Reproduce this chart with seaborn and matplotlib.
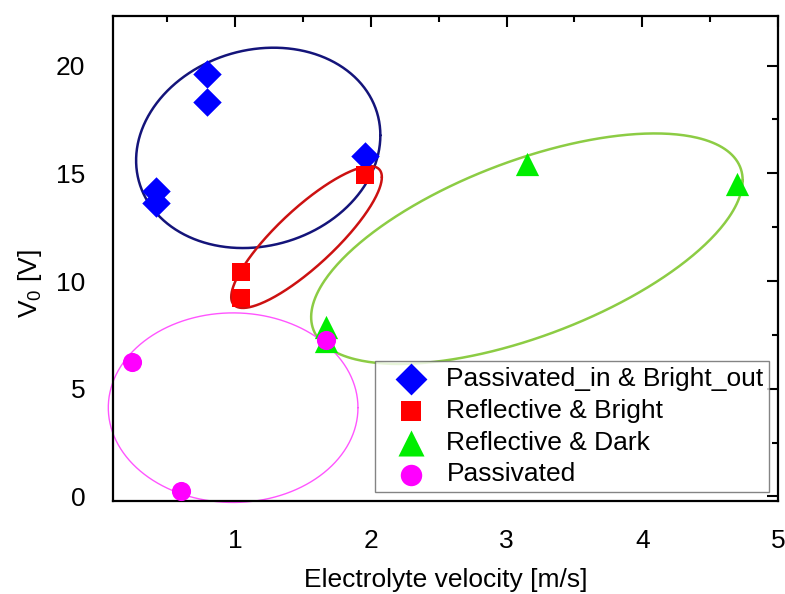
import numpy as np
import pandas as pd
import matplotlib
matplotlib.use("Agg")
import matplotlib.pyplot as plt
import seaborn as sns
from matplotlib.ticker import MultipleLocator

# ---- data ----
groups = ["Passivated_in & Bright_out", "Reflective & Bright", "Reflective & Dark", "Passivated"]

pib_x = [0.79, 0.79, 0.42, 0.42, 1.96]
pib_y = [19.6, 18.3, 14.2, 13.6, 15.8]

rb_x = [1.96, 1.04, 1.04]
rb_y = [14.9, 10.4, 9.2]

rd_x = [3.15, 4.70, 1.67, 1.67]
rd_y = [15.45, 14.5, 7.85, 7.2]

pas_x = [0.24, 0.60, 1.67]
pas_y = [6.25, 0.25, 7.27]

colors = ["#0000ff", "#ff0000", "#00ee00", "#ff00ff"]
markers = ["D", "s", "^", "o"]
marker_sizes = [210, 150, 280, 190]

# ellipses: center x, center y, half-width x, half-height y, phase shift
ell_cx = [1.17, 1.526, 3.15, 0.985]
ell_cy = [16.18, 12.04, 11.5, 4.12]
ell_ax = [0.90, 0.555, 1.59, 0.92]
ell_by = [4.65, 3.29, 5.35, 4.40]
ell_delta = [1.445, 0.564, 0.936, np.pi / 2]
ell_colors = ["#14147a", "#cc1111", "#8ccc44", "#ff55ff"]
ell_lw = [1.8, 1.8, 1.8, 1.0]

xs = [pib_x, rb_x, rd_x, pas_x]
ys = [pib_y, rb_y, rd_y, pas_y]
df = pd.concat([pd.DataFrame({"x": x, "y": y, "group": g}) for x, y, g in zip(xs, ys, groups)],
               ignore_index=True)

sns.set_style("white")
plt.rcParams["font.family"] = ["Liberation Sans", "DejaVu Sans"]
plt.rcParams["mathtext.fontset"] = "custom"
plt.rcParams["mathtext.rm"] = "Liberation Sans"
plt.rcParams["mathtext.it"] = "Liberation Sans"
plt.rcParams["text.color"] = "black"
plt.rcParams["axes.labelcolor"] = "black"

fig = plt.figure(figsize=(7.85, 5.94), dpi=100)
ax = fig.add_axes([0.144, 0.157, 0.847, 0.816])

# ellipses
t = np.linspace(0, 2 * np.pi, 400)
for cx, cy, a, b, d, c, lw in zip(ell_cx, ell_cy, ell_ax, ell_by, ell_delta, ell_colors, ell_lw):
    ax.plot(cx + a * np.cos(t), cy + b * np.cos(t - d), color=c, lw=lw, zorder=2, clip_on=False)

for g, c, m, s in zip(groups, colors, markers, marker_sizes):
    sub = df[df["group"] == g]
    sns.scatterplot(data=sub, x="x", y="y", color=c, marker=m, s=s, linewidth=0,
                    ax=ax, zorder=3, label=g, clip_on=False)

ax.set_xlim(0.1, 5.0)
ax.set_ylim(-0.2, 22.3)
ax.xaxis.set_major_locator(MultipleLocator(1))
ax.xaxis.set_minor_locator(MultipleLocator(0.5))
ax.yaxis.set_major_locator(MultipleLocator(5))
ax.yaxis.set_minor_locator(MultipleLocator(2.5))
ax.set_xticks([1, 2, 3, 4, 5])
ax.set_xticklabels(["1", "2", "3", "4", "5"])
ax.tick_params(which="both", direction="in", top=True, right=True, colors="black",
               labelsize=19, width=1.5)
ax.tick_params(which="major", length=8)
ax.tick_params(axis="x", which="major", pad=20)
ax.tick_params(axis="y", which="major", pad=20)
ax.tick_params(which="minor", length=4)
for sp in ax.spines.values():
    sp.set_color("black")
    sp.set_linewidth(1.6)

ax.set_xlabel("Electrolyte velocity [m/s]", fontsize=19, labelpad=11, color="black")
ax.set_ylabel("V$_0$ [V]", fontsize=19, color="black")
ax.yaxis.set_label_coords(-0.104, 0.447)

leg = ax.legend(loc="lower right", fontsize=19, frameon=True, fancybox=False,
                edgecolor="#666666", borderpad=0.2, labelspacing=0.3,
                handletextpad=0.2, borderaxespad=0.34, markerscale=1.12,
                handlelength=2.3)
leg.get_frame().set_linewidth(1.0)
for txt in leg.get_texts():
    txt.set_color("black")

fig.savefig("out.png", dpi=100)
